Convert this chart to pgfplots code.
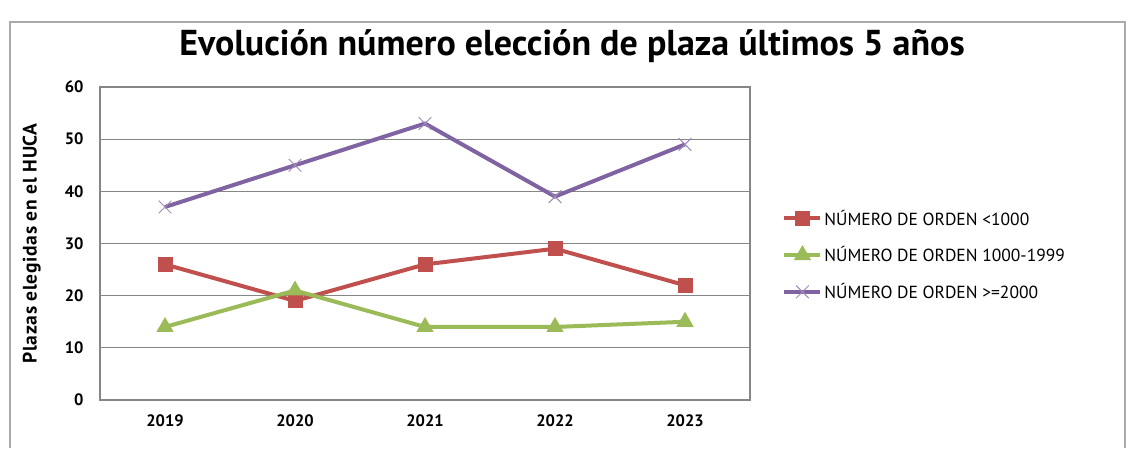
\documentclass[border=0pt]{standalone}
\usepackage{pgfplots}
\pgfplotsset{compat=1.18}
\usepackage{fontspec}
\setmainfont{PT Sans}
\definecolor{xred}{HTML}{C0504D}
\definecolor{xgreen}{HTML}{9BBB59}
\definecolor{xpurple}{HTML}{8064A2}
\definecolor{xgrid}{HTML}{868686}
\begin{document}
\begin{tikzpicture}
\useasboundingbox (0pt,0pt) rectangle (1131pt,448pt);
\draw[xgrid!70, line width=1.2pt] (10pt,0pt) -- (10pt,426pt) -- (1125pt,426pt) -- (1125pt,0pt);
\node[font=\bfseries\fontsize{36}{36}\selectfont, anchor=base] at (572pt,392pt) {Evolución número elección de plaza últimos 5 años};
\begin{axis}[
  at={(100pt,48pt)}, anchor=south west,
  width=650pt, height=313pt, scale only axis,
  xmin=-0.5, xmax=4.5, ymin=0, ymax=60,
  xtick={0,1,2,3,4}, xticklabels={2019,2020,2021,2022,2023},
  ytick={0,10,...,60},
  ymajorgrids, grid style={xgrid, line width=1.3pt},
  axis line style={xgrid, line width=1.3pt},
  major tick length=0pt,
  /pgf/number format/assume math mode=true,
  ticklabel style={font=\bfseries\fontsize{16.5}{16.5}\selectfont},
  xticklabel style={yshift=-11pt},
  yticklabel style={xshift=-13pt},
  ylabel={Plazas elegidas en el HUCA},
  ylabel style={at={(axis description cs:-0.105,0.5)}, anchor=center, font=\bfseries\fontsize{19.5}{19.5}\selectfont\addfontfeatures{LetterSpace=3.5}},
  legend style={at={(1.045,0.463)}, anchor=west, draw=none, fill=none,
    font=\fontsize{17.5}{17.5}\selectfont, row sep=16pt},
  legend cell align=left,
  legend image code/.code={\draw[#1] (0pt,0pt) -- (36pt,0pt); \path[#1,mark repeat=1] plot coordinates {(18pt,0pt)};},
]
\addplot[xred, line width=4pt, mark=square*, mark size=7pt, mark options={solid, line width=1pt}] coordinates {(0,26) (1,19) (2,26) (3,29) (4,22)};
\addlegendentry{NÚMERO DE ORDEN <1000}
\addplot[xgreen, line width=4pt, mark=triangle*, mark size=9pt, mark options={solid, line width=1pt}] coordinates {(0,14) (1,21) (2,14) (3,14) (4,15)};
\addlegendentry{NÚMERO DE ORDEN 1000-1999}
\addplot[xpurple, line width=4pt, mark=x, mark size=9pt, mark options={solid, line width=1pt, draw=xpurple!75}] coordinates {(0,37) (1,45) (2,53) (3,39) (4,49)};
\addlegendentry{NÚMERO DE ORDEN >=2000}
\end{axis}
\end{tikzpicture}
\end{document}
